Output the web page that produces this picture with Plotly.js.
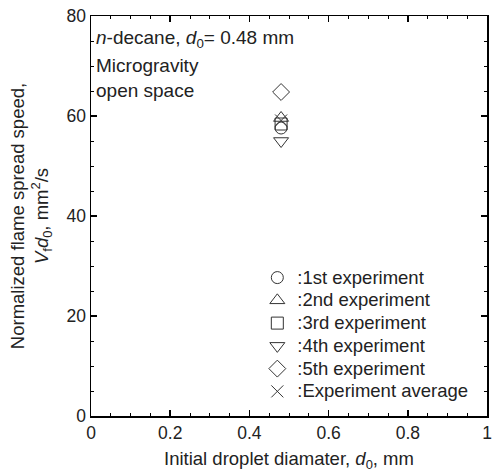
<!DOCTYPE html>
<html><head><meta charset="utf-8">
<script src="https://cdn.plot.ly/plotly-3.0.1.min.js"></script>
<style>body{margin:0;background:#fff}#c{width:493px;height:474px}</style>
</head><body><div id="c"></div>
<script>
const names = [":1st experiment", ":2nd experiment", ":3rd experiment", ":4th experiment", ":5th experiment", ":Experiment average"];
const symbols = ["circle-open", "triangle-up-open", "square-open", "triangle-down-open", "diamond-open", "x-thin-open"];
const d0 = [0.48, 0.48, 0.48, 0.48, 0.48, 0.48];
const vfd0 = [57.6, 59.6, 58.4, 55.0, 64.8, 59.1];
const sizes = [12, 13, 12, 13, 13, 12];
const xTicks = [0, 0.2, 0.4, 0.6, 0.8, 1];
const xTickText = ["0", "0.2", "0.4", "0.6", "0.8", "1"];

const FONT = 'Liberation Sans, Arial, sans-serif';
const traces = names.map((n, i) => ({
  type: 'scatter', mode: 'markers', name: '<span style="font-size:18.5px">' + n + '</span>',
  x: [d0[i]], y: [vfd0[i]],
  marker: {symbol: symbols[i], size: sizes[i], color: '#333', line: {width: 1, color: '#333'}}
}));

const axisCommon = {
  showline: true, linecolor: '#000', linewidth: 1.5, mirror: 'allticks',
  ticks: 'inside', ticklen: 6, tickwidth: 1.5, tickcolor: '#000',
  showgrid: false, zeroline: false, ticklabeloverflow: 'allow',
  tickfont: {family: FONT, size: 17.5, color: '#222'},
  minor: {ticks: 'inside', ticklen: 3, tickwidth: 1, tickcolor: '#000'}
};

const layout = {
  width: 493, height: 474,
  margin: {l: 91, r: 6, t: 16, b: 58},
  paper_bgcolor: '#fff', plot_bgcolor: '#fff',
  font: {family: FONT, size: 18.5, color: '#222'},
  showlegend: true,
  legend: {x: 0.42, y: 0.387, xanchor: 'left', yanchor: 'top', bgcolor: 'rgba(0,0,0,0)',
    font: {family: FONT, size: 15.2, color: '#222'}, tracegroupgap: 0, itemwidth: 30},
  xaxis: Object.assign({}, axisCommon, {
    range: [0, 1], tickmode: 'array', tickvals: xTicks, ticktext: xTickText,
    minor: Object.assign({}, axisCommon.minor, {tickmode: 'linear', tick0: 0, dtick: 0.05}),
    title: {text: 'Initial droplet diamater, <i>d</i><sub>0</sub>, mm', standoff: 10,
      font: {family: FONT, size: 18.5, color: '#222'}}
  }),
  yaxis: Object.assign({}, axisCommon, {
    range: [0, 80], dtick: 20, minor: Object.assign({}, axisCommon.minor, {dtick: 5}),
    title: {text: 'Normalized flame spread speed,<br><i>V</i><sub>f</sub><i>d</i><sub>0</sub>, mm<sup>2</sup>/s',
      standoff: 13, font: {family: FONT, size: 18.5, color: '#222'}}
  }),
  annotations: [
    {xref: 'paper', yref: 'paper', x: 0.0, xshift: 3, y: 0.977, xanchor: 'left', yanchor: 'top', showarrow: false,
     align: 'left', font: {family: FONT, size: 19, color: '#222'},
     text: '<i>n</i>-decane, <i>d</i><sub>0</sub>= 0.48 mm'},
    {xref: 'paper', yref: 'paper', x: 0.0, xshift: 3, y: 0.907, xanchor: 'left', yanchor: 'top', showarrow: false,
     align: 'left', font: {family: FONT, size: 19, color: '#222'},
     text: 'Microgravity<br>open space'}
  ]
};
Plotly.newPlot('c', traces, layout, {displayModeBar: false, staticPlot: true});
</script></body></html>
